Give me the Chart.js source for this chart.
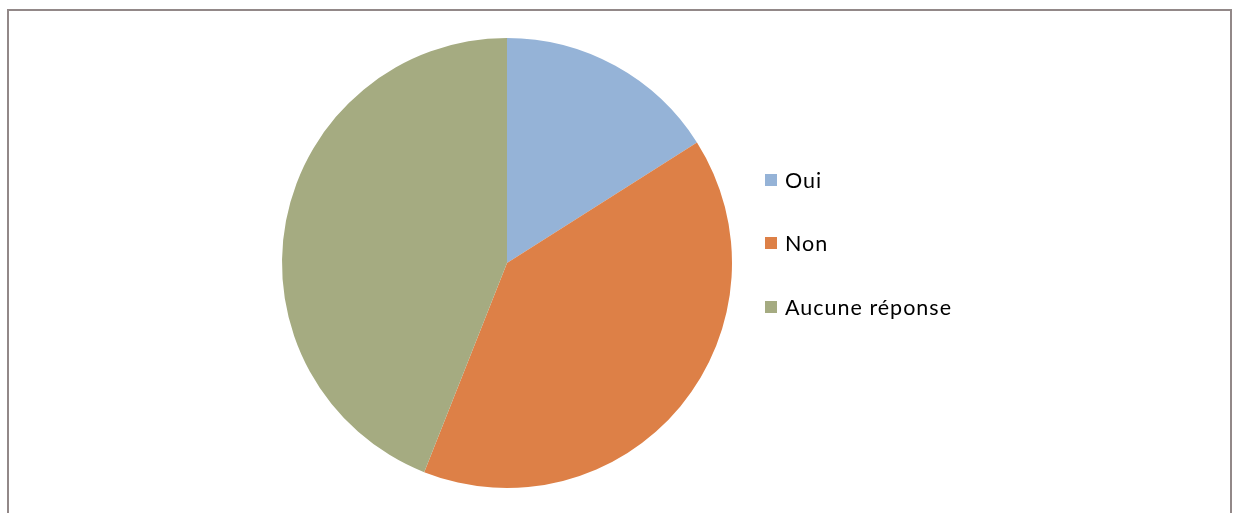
<!DOCTYPE html>
<html>
<head>
<meta charset="utf-8">
<script src="https://cdn.jsdelivr.net/npm/chart.js@4"></script>
<style>
  html, body { margin: 0; padding: 0; background: #fff; width: 1235px; height: 513px; overflow: hidden; }
  #frame { position: absolute; left: 7px; top: 9px; width: 1221px; height: 520px; border: 2px solid #928888; box-sizing: content-box; }
  #wrap { position: absolute; left: 0; top: 0; width: 1235px; height: 513px; }
  #legend { position: absolute; left: 765px; top: 0; font-family: Lato, "Open Sans", sans-serif; font-size: 21.5px; letter-spacing: 1px; color: #000; }
  .item { position: absolute; left: 0; white-space: nowrap; display: flex; align-items: center; }
  .sw { width: 12px; height: 12px; margin-right: 8px; }
</style>
</head>
<body>
<div id="frame"></div>
<div id="wrap"><canvas id="c" width="1235" height="513"></canvas></div>
<div id="legend"></div>
<script>
const categories = ["Oui", "Non", "Aucune réponse"];
const values = [16, 40, 44];
const colors = ["#95B3D7", "#DD8047", "#A5AB81"];

const chart = new Chart(document.getElementById("c"), {
  type: "pie",
  data: {
    labels: categories,
    datasets: [{ data: values, backgroundColor: colors, borderWidth: 0 }]
  },
  options: {
    responsive: false,
    animation: false,
    layout: { padding: { left: 282, right: 503, top: 38, bottom: 25 } },
    plugins: { legend: { display: false }, tooltip: { enabled: false } }
  }
});

const legend = document.getElementById("legend");
const legendY = [181, 244, 308];
categories.forEach((name, i) => {
  const d = document.createElement("div");
  d.className = "item";
  d.style.top = (legendY[i] - 14) + "px";
  d.style.height = "26px";
  const sw = document.createElement("div");
  sw.className = "sw";
  sw.style.background = colors[i];
  const t = document.createElement("span");
  t.textContent = name;
  d.appendChild(sw);
  d.appendChild(t);
  legend.appendChild(d);
});
</script>
</body>
</html>
